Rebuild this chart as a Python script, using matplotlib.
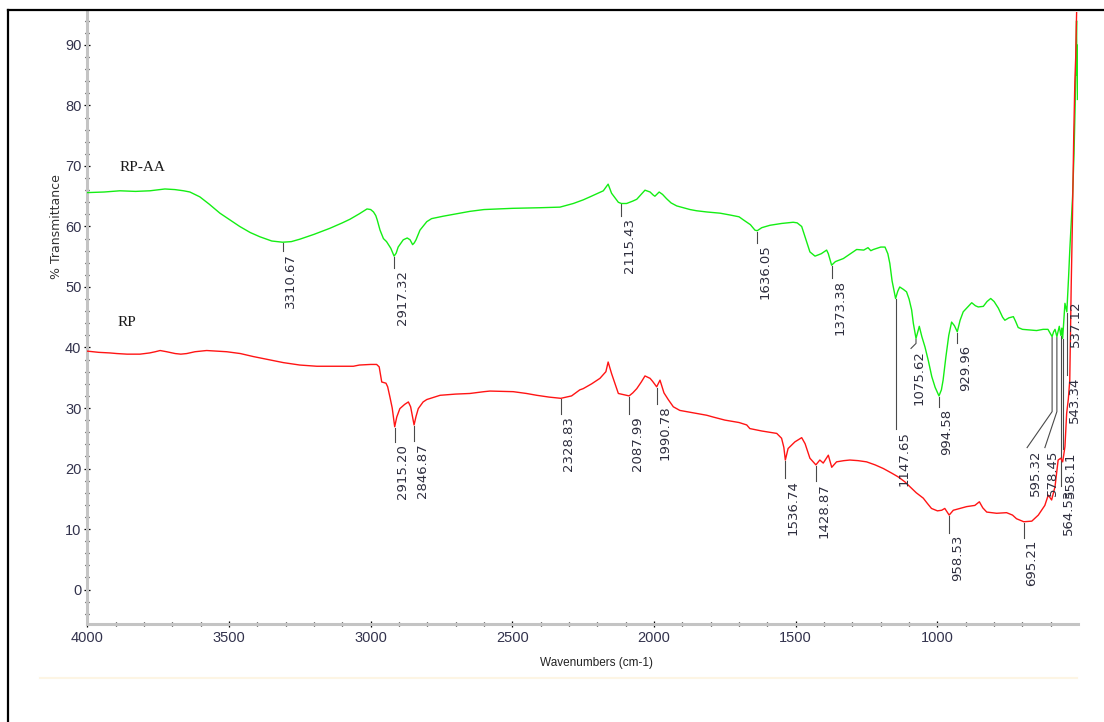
import numpy as np
import matplotlib
matplotlib.use("Agg")
import matplotlib.pyplot as plt
from matplotlib.lines import Line2D
from matplotlib.ticker import MultipleLocator

# ---------------- spectra (wavenumber cm-1, % transmittance) ----------------
rpaa_wn = [4000, 3940, 3885, 3830, 3779, 3726, 3691, 3660, 3638, 3603, 3570, 3532,
           3497, 3462, 3425, 3391, 3349, 3310.67, 3280, 3250, 3200, 3144, 3100, 3073,
           3040, 3013, 3000, 2990, 2982, 2977, 2967, 2955, 2944, 2929, 2917.32, 2910,
           2903, 2885, 2871, 2861, 2852, 2846, 2840, 2826, 2802, 2785, 2744, 2685,
           2650, 2600, 2500, 2403, 2332, 2285, 2250, 2226, 2179, 2162, 2150, 2126,
           2115.43, 2097, 2075, 2061, 2032, 2014, 2003, 1997, 1982, 1970, 1956, 1940,
           1920, 1873, 1850, 1814, 1767, 1732, 1700, 1685, 1660, 1644, 1636.05, 1620,
           1591, 1550, 1509, 1495, 1479, 1465, 1450, 1432, 1410, 1391, 1385, 1373.38,
           1360, 1332, 1310, 1285, 1260, 1245, 1235, 1226, 1200, 1185, 1175, 1168,
           1160, 1147.65, 1140, 1133, 1120, 1109, 1100, 1091, 1085, 1075.62, 1064,
           1055, 1044, 1032, 1020, 1008, 994.58, 986, 980, 970, 960, 950, 940, 929.96,
           920, 909, 895, 879, 866, 856, 838, 825, 812, 800, 785, 770, 762, 748, 732,
           724, 715, 700, 674, 650, 627, 610, 600, 595.32, 590, 585, 578.45, 570,
           564.53, 561, 558.11, 550, 543.34, 537.12, 533, 528, 523, 518, 514, 511,
           509, 508, 507, 506]
rpaa_t = [65.6, 65.7, 65.9, 65.8, 65.9, 66.2, 66.1, 65.9, 65.7, 64.9, 63.7, 62.2,
          61.1, 60.0, 59.0, 58.3, 57.6, 57.4, 57.5, 57.9, 58.7, 59.7, 60.6, 61.2,
          62.1, 62.9, 62.8, 62.4, 61.8, 61.1, 59.4, 58.0, 57.5, 56.4, 55.1, 55.6,
          56.6, 57.8, 58.1, 57.8, 57.0, 57.3, 57.8, 59.4, 60.8, 61.3, 61.7, 62.2,
          62.5, 62.8, 63.0, 63.1, 63.2, 63.8, 64.4, 64.9, 65.9, 67.0, 65.5, 64.0,
          63.8, 63.8, 64.2, 64.5, 66.0, 65.7, 65.2, 65.0, 65.7, 65.3, 64.6, 63.9,
          63.4, 62.8, 62.6, 62.4, 62.2, 61.9, 61.6, 61.1, 60.3, 59.4, 59.3, 59.8,
          60.2, 60.5, 60.7, 60.6, 60.0, 58.0, 55.8, 55.1, 55.5, 56.1, 55.5, 53.6,
          54.2, 54.7, 55.4, 56.2, 56.1, 56.5, 56.0, 56.2, 56.6, 56.6, 55.5, 53.9,
          51.0, 48.1, 49.3, 50.0, 49.6, 49.2, 48.0, 46.2, 44.0, 41.5, 43.5,
          41.8, 40.1, 37.8, 35.2, 33.4, 32.0, 33.0, 34.6, 38.5, 42.0, 44.2, 43.6, 42.6,
          44.5, 45.9, 46.6, 47.4, 46.9, 46.7, 46.8, 47.6, 48.1, 47.6, 46.5, 45.0, 44.5, 44.9, 45.1,
          44.3, 43.3, 43.0, 42.9, 42.8, 43.0, 43.0, 42.2, 41.8, 42.6, 43.0, 41.8, 43.5,
          42.0, 43.2, 41.5, 47.3, 45.9, 51.7, 56.0, 60.5, 65.0, 72.0, 80.0, 88.0,
          94.0, 85.0, 90.0, 81.0]

rp_wn = [4000, 3960, 3920, 3896, 3860, 3814, 3780, 3760, 3743, 3720, 3690, 3670,
         3649, 3620, 3579, 3540, 3508, 3460, 3414, 3360, 3308, 3250, 3190, 3100,
         3061, 3040, 3000, 2979, 2970, 2961, 2946, 2940, 2932, 2924, 2915.20, 2908,
         2897, 2880, 2867, 2859, 2846.87, 2840, 2832, 2815, 2802, 2755, 2700, 2650,
         2600, 2579, 2497, 2450, 2414, 2370, 2328.83, 2291, 2262, 2250, 2220, 2191,
         2170, 2162, 2150, 2126, 2087.99, 2075, 2061, 2045, 2032, 2014, 2005, 1990.78,
         1979, 1965, 1950, 1932, 1909, 1873, 1850, 1814, 1791, 1750, 1700, 1673,
         1662, 1620, 1567, 1550, 1542, 1536.74, 1527, 1503, 1479, 1467, 1450,
         1428.87, 1415, 1403, 1385, 1373, 1356, 1330, 1309, 1280, 1250, 1220, 1191,
         1160, 1138, 1115, 1097, 1075, 1050, 1035, 1021, 1000, 985, 974, 958.53, 944,
         920, 897, 868, 852, 840, 826, 791, 756, 735, 721, 695.21, 667, 644, 621,
         609, 597, 585, 574, 565, 558, 550, 544, 538, 533, 528, 524, 519, 515, 512,
         510, 508]
rp_t = [39.4, 39.2, 39.1, 39.0, 38.9, 38.9, 39.1, 39.3, 39.5, 39.3, 39.0, 38.9,
        39.0, 39.3, 39.5, 39.4, 39.3, 39.0, 38.5, 38.0, 37.5, 37.1, 36.9, 36.9,
        36.9, 37.1, 37.2, 37.2, 36.8, 34.3, 34.1, 33.5, 31.8, 30.0, 26.9, 28.5,
        29.9, 30.6, 31.0, 30.2, 27.2, 28.6, 29.9, 31.0, 31.4, 32.1, 32.3, 32.4,
        32.7, 32.8, 32.7, 32.4, 32.1, 31.8, 31.6, 32.0, 33.0, 33.2, 34.0, 34.9,
        36.0, 37.6, 35.7, 32.4, 32.0, 32.5, 33.2, 34.3, 35.3, 34.9, 34.4, 33.5,
        34.6, 32.5, 31.4, 30.2, 29.6, 29.3, 29.1, 28.8, 28.5, 28.0, 27.6, 27.2,
        26.6, 26.2, 25.8, 25.0, 23.5, 21.4, 23.3, 24.4, 25.1, 24.1, 21.7,
        20.6, 21.4, 20.9, 22.2, 20.2, 21.1, 21.3, 21.4, 21.3, 21.1, 20.6, 20.0,
        19.2, 18.6, 17.8, 17.0, 16.0, 15.1, 14.2, 13.4, 13.0, 13.1, 13.4, 12.3, 13.1,
        13.4, 13.7, 13.9, 14.5, 13.5, 12.8, 12.6, 12.7, 12.3, 11.7, 11.2, 11.3, 12.3, 13.9,
        15.6, 14.8, 17.0, 21.4, 21.7, 21.1, 23.6, 29.1, 31.5, 34.6, 50.0, 60.0, 75.0, 84.0, 88.0,
        93.0, 97.0]

# labelled band positions for each spectrum
rpaa_peaks = [3310.67, 2917.32, 2115.43, 1636.05, 1373.38, 1147.65, 1075.62,
              994.58, 929.96, 595.32, 578.45, 564.53, 558.11, 543.34, 537.12]
rp_peaks = [2915.20, 2846.87, 2328.83, 2087.99, 1990.78, 1536.74, 1428.87,
            958.53, 695.21]

x_ticks = [4000, 3500, 3000, 2500, 2000, 1500, 1000]
y_ticks = [0, 10, 20, 30, 40, 50, 60, 70, 80, 90]

# ---------------- figure ----------------
W, H = 1104, 722
fig = plt.figure(figsize=(W / 100, H / 100), dpi=100)
ax = fig.add_axes([87.3 / W, 1 - 624 / H, (1077.7 - 87.3) / W, (624 - 11.7) / H])
ax.set_xlim(4000, 505)
ax.set_ylim(-5.7, 95.5)

GREEN = "#14ee14"
RED = "#ff1414"
ax.plot(rpaa_wn, rpaa_t, color=GREEN, lw=1.0, zorder=3)
ax.plot(rp_wn, rp_t, color=RED, lw=1.0, zorder=4)

# axes styling
for side in ("top", "right"):
    ax.spines[side].set_visible(False)
for side in ("left", "bottom"):
    ax.spines[side].set_color("#c4c4c4")
    ax.spines[side].set_linewidth(2.2)
ax.set_xticks(x_ticks)
ax.set_yticks(y_ticks)
ax.xaxis.set_minor_locator(MultipleLocator(100))
ax.yaxis.set_minor_locator(MultipleLocator(2))
ax.tick_params(which="major", direction="inout", length=4.5, width=0.9, color="black",
               labelsize=10.5, labelcolor="#33334d")
ax.tick_params(which="minor", direction="inout", length=2.2, width=0.9, color="black")
ax.tick_params(axis="y", which="major", pad=2)
ax.tick_params(axis="x", which="major", pad=3)
tick_family = ["Liberation Sans Narrow", "DejaVu Sans Condensed", "Liberation Sans"]
for lab in ax.get_xticklabels() + ax.get_yticklabels():
    lab.set_family(tick_family)

# series names
ax.text(3885, 69.8, "RP-AA", family="Liberation Serif", fontsize=11,
        ha="left", va="center", color="#1a1a1a")
ax.text(3895, 44.2, "RP", family="Liberation Serif", fontsize=11,
        ha="left", va="center", color="#1a1a1a")

# axis titles
fig.text(56.5 / W, 1 - 227 / H, "% Transmittance", rotation=90, ha="center",
         va="center", fontsize=9, color="#333333", family="DejaVu Sans")
fig.text(597 / W, 1 - 663 / H, "Wavenumbers (cm-1)", ha="center", va="center",
         fontsize=8.5, color="#222222", family="Liberation Sans")


def shifted(wn, t, dx, dy):
    """Data point offset by dx pixels right and dy pixels down."""
    X, Y = ax.transData.transform((wn, t))
    return ax.transData.inverted().transform((X + dx, Y - dy))


def band_label(wn_arr, t_arr, wn, lead, bend=None, txt_dx=8):
    wa = np.asarray(wn_arr)[::-1]
    ta = np.asarray(t_arr)[::-1]
    t = float(np.interp(wn, wa, ta))
    if lead is None:
        # no room below: the value sits beside the steep edge
        tx, ty = shifted(wn, t, 7, 70)
        ax.text(tx, ty, f"{wn:.2f}", rotation=90, ha="center", va="bottom",
                fontsize=9.5, color="#2e2e3e", family="DejaVu Sans", zorder=5)
        return
    path = [(0, 1), (0, 1 + lead)]
    if bend is not None:
        path.append((bend[0], 1 + lead + bend[1]))
    pts = [shifted(wn, t, dx, dy) for dx, dy in path]
    ax.plot([p[0] for p in pts], [p[1] for p in pts], color="#4a4a4a", lw=0.8,
            zorder=2, clip_on=False)
    ex, ey = path[-1]
    tx, ty = shifted(wn, t, ex + txt_dx, ey + 2)
    ax.text(tx, ty, f"{wn:.2f}", rotation=90, ha="center", va="top",
            fontsize=9.5, color="#2e2e3e", family="DejaVu Sans", zorder=5)


# leader layout: (length px, bend (dx, dy) px)
rpaa_leaders = {
    3310.67: (8, None), 2917.32: (11, None), 2115.43: (12, None),
    1636.05: (11, None), 1373.38: (12, None), 1147.65: (130, None),
    1075.62: (4, (-5, 5)), 994.58: (10, None), 929.96: (10, None),
    595.32: (74, (-25, 36)), 578.45: (74, (-12, 36)), 564.53: (150, None),
    558.11: (110, None), 543.34: (62, None), 537.12: (None, None),
}
rp_leaders = {
    2915.20: (14, None), 2846.87: (15, None), 2328.83: (15, None),
    2087.99: (17, None), 1990.78: (16, None), 1536.74: (17, None),
    1428.87: (15, None), 958.53: (17, None), 695.21: (15, None),
}
for p in rpaa_peaks:
    lead, bend = rpaa_leaders[p]
    band_label(rpaa_wn, rpaa_t, p, lead, bend)
for p in rp_peaks:
    lead, bend = rp_leaders[p]
    band_label(rp_wn, rp_t, p, lead, bend)

# page frame and rule
fig.add_artist(Line2D([8 / W, 8 / W], [0, 1 - 9.5 / H], transform=fig.transFigure,
                      color="black", lw=1.6))
fig.add_artist(Line2D([8 / W, 1], [1 - 9.5 / H, 1 - 9.5 / H], transform=fig.transFigure,
                      color="black", lw=1.6))
fig.add_artist(Line2D([40 / W, 1077 / W], [1 - 678 / H, 1 - 678 / H],
                      transform=fig.transFigure, color="#fdf5e4", lw=1.5))

fig.savefig("out.png", dpi=100)
